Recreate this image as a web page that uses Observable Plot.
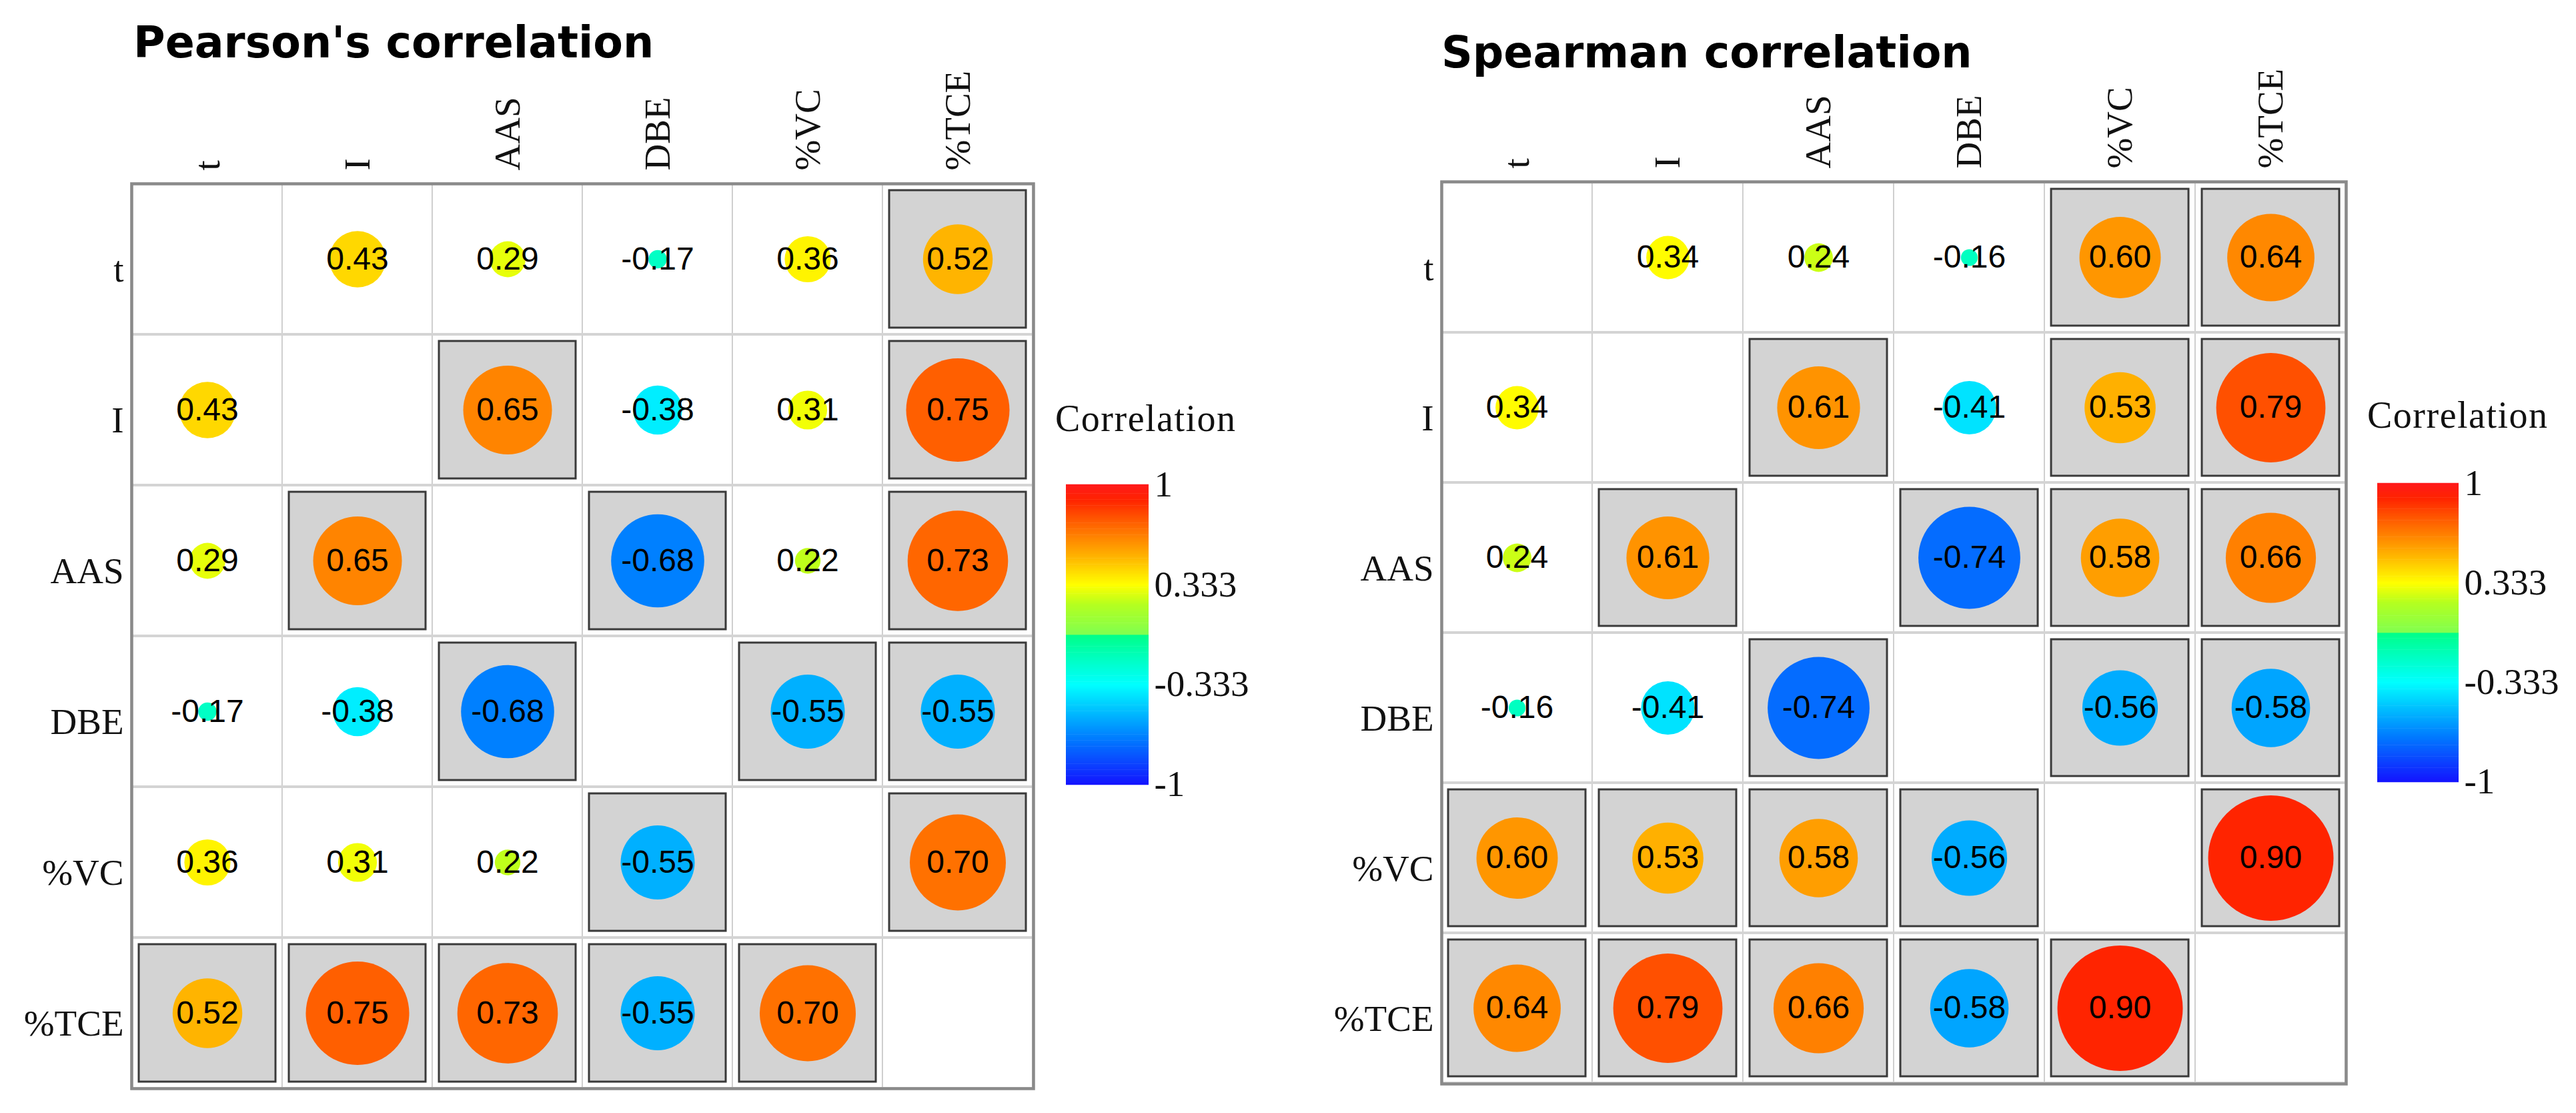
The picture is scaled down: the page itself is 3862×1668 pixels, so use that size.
<!DOCTYPE html>
<html>
<head>
<meta charset="utf-8">
<script src="https://cdn.jsdelivr.net/npm/d3@7"></script>
<script src="https://cdn.jsdelivr.net/npm/@observablehq/plot@0.6"></script>
<style>
  html, body { margin: 0; padding: 0; background: #fff; }
  #page { position: relative; width: 3862px; height: 1668px; overflow: hidden; background: #fff; }
  .abs { position: absolute; }
  .title { font-family: "DejaVu Sans", Verdana, sans-serif; font-weight: bold; font-size: 65px; line-height: 1; white-space: nowrap; color: #000; }
  .ltitle { font-family: "Liberation Serif", serif; font-size: 56px; line-height: 1; white-space: nowrap; color: #111; letter-spacing: 1.5px; }
</style>
</head>
<body>
<div id="page"></div>
<script>
// ---------------- data ----------------
const variables = ["t", "I", "AAS", "DBE", "%VC", "%TCE"];

// upper triangle, row-wise: (t,I) (t,AAS) (t,DBE) (t,%VC) (t,%TCE) (I,AAS) (I,DBE) (I,%VC) (I,%TCE)
// (AAS,DBE) (AAS,%VC) (AAS,%TCE) (DBE,%VC) (DBE,%TCE) (%VC,%TCE)
const pearsonValues      = [0.43, 0.29, -0.17, 0.36, 0.52, 0.65, -0.38, 0.31, 0.75, -0.68, 0.22, 0.73, -0.55, -0.55, 0.70];
const pearsonSignificant = [0,    0,    0,     0,    1,    1,    0,     0,    1,    1,     0,    1,    1,     1,     1];

const spearmanValues      = [0.34, 0.24, -0.16, 0.60, 0.64, 0.61, -0.41, 0.53, 0.79, -0.74, 0.58, 0.66, -0.56, -0.58, 0.90];
const spearmanSignificant = [0,    0,    0,     1,    1,    1,    0,     1,    1,    1,     1,    1,    1,     1,     1];

const legendTicks = [1, 0.333, -0.333, -1];

const colorStops  = [-1, -0.68, -0.333, -0.001, 0.001, 0.2, 0.333, 0.52, 0.79, 0.9, 1];
const stopColors  = ["#1414FF", "#0080FF", "#00FFFF", "#00FF88", "#80FF50", "#B4FF20", "#FFFF00", "#FFB400", "#FF5000", "#FF2400", "#FF1A1A"];

// ---------------- helpers ----------------
const colorScale = {type: "linear", domain: colorStops, range: stopColors, interpolate: "rgb"};
const rScale = {type: "linear", domain: [0.0455, 1], range: [0, 105], clamp: true};
const serif = "'Liberation Serif', 'DejaVu Serif', serif";
const sans = "'Liberation Sans', Arial, sans-serif";

function buildMatrix(values, sig) {
  const out = [];
  let k = 0;
  for (let i = 0; i < variables.length; i++) {
    for (let j = i + 1; j < variables.length; j++) {
      out.push({x: variables[j], y: variables[i], value: values[k], sig: sig[k]});
      out.push({x: variables[i], y: variables[j], value: values[k], sig: sig[k]});
      k++;
    }
  }
  return out;
}

const allPairs = d3.cross(variables, variables).map(([a, b]) => ({x: a, y: b}));

function matrixPlot(data, {width, height, marginLeft, marginRight, marginTop, marginBottom}) {
  return Plot.plot({
    width, height, marginLeft, marginRight, marginTop, marginBottom,
    style: {background: "transparent", maxWidth: "none", overflow: "visible"},
    x: {type: "band", domain: variables, padding: 0, axis: null},
    y: {type: "band", domain: variables, padding: 0, axis: null},
    color: colorScale,
    r: rScale,
    marks: [
      Plot.cell(allPairs, {x: "x", y: "y", fill: "white", stroke: "#C6C6C6", strokeWidth: 1.5}),
      Plot.cell(variables, {y: d => d, fill: "none", stroke: "#D4D4D4", strokeWidth: 4}),
      Plot.cell(data.filter(d => d.sig), {x: "x", y: "y", inset: 10, fill: "#D3D3D3", stroke: "#3A3A3A", strokeWidth: 3}),
      Plot.dot(data, {x: "x", y: "y", r: d => Math.abs(d.value), fill: d => d.value, stroke: "none"}),
      Plot.text(data, {x: "x", y: "y", text: d => d.value.toFixed(2), fontSize: 48, fontFamily: sans, fill: "#000"}),
      Plot.frame({stroke: "#8A8A8A", strokeWidth: 4.5}),
      Plot.text(variables, {x: d => d, frameAnchor: "top", rotate: -90, textAnchor: "start", lineAnchor: "middle", dy: -20, fontSize: 55, fontFamily: serif, fill: "#111"}),
      Plot.text(variables, {y: d => d, frameAnchor: "left", textAnchor: "end", lineAnchor: "middle", dx: -12, dy: 16, fontSize: 55, fontFamily: serif, fill: "#111"})
    ]
  });
}

const step = 0.004;
const gradientSteps = d3.range(-1, 1 + step / 2, step);

function colorBar({width, height, marginTop, marginBottom, marginRight}) {
  return Plot.plot({
    width, height, marginTop, marginBottom, marginLeft: 0, marginRight,
    style: {background: "transparent", maxWidth: "none", overflow: "visible"},
    x: {axis: null},
    y: {domain: [-1, 1], axis: null},
    color: colorScale,
    marks: [
      Plot.ruleY(gradientSteps, {y: d => d, stroke: d => d, strokeWidth: 1.6}),
      Plot.axisY(legendTicks, {anchor: "right", tickSize: 0, tickPadding: 8, tickFormat: d => String(d), fontSize: 55, fontFamily: serif, label: null, fill: "#111"})
    ]
  });
}

// ---------------- layout ----------------
const page = document.getElementById("page");
function place(el, left, top) {
  const div = document.createElement("div");
  div.className = "abs";
  div.style.left = left + "px";
  div.style.top = top + "px";
  div.appendChild(el);
  page.appendChild(div);
  return div;
}
function addText(text, cls, left, top) {
  const div = document.createElement("div");
  div.className = "abs " + cls;
  div.style.left = left + "px";
  div.style.top = top + "px";
  div.textContent = text;
  page.appendChild(div);
}

// Left: Pearson
place(matrixPlot(buildMatrix(pearsonValues, pearsonSignificant),
  {width: 1560, height: 1668, marginLeft: 197, marginRight: 11, marginTop: 275, marginBottom: 37}), 0, 0);
place(colorBar({width: 320, height: 540, marginTop: 26, marginBottom: 65, marginRight: 196}), 1598, 700);
addText("Pearson's correlation", "title", 200, 31);
addText("Correlation", "ltitle", 1582, 599);

// Right: Spearman
place(matrixPlot(buildMatrix(spearmanValues, spearmanSignificant),
  {width: 1600, height: 1668, marginLeft: 211, marginRight: 33, marginTop: 272, marginBottom: 44}), 1950, 0);
place(colorBar({width: 298, height: 540, marginTop: 26, marginBottom: 67, marginRight: 176}), 3564, 698);
addText("Spearman correlation", "title", 2161, 46);
addText("Correlation", "ltitle", 3549, 594);
</script>
</body>
</html>
